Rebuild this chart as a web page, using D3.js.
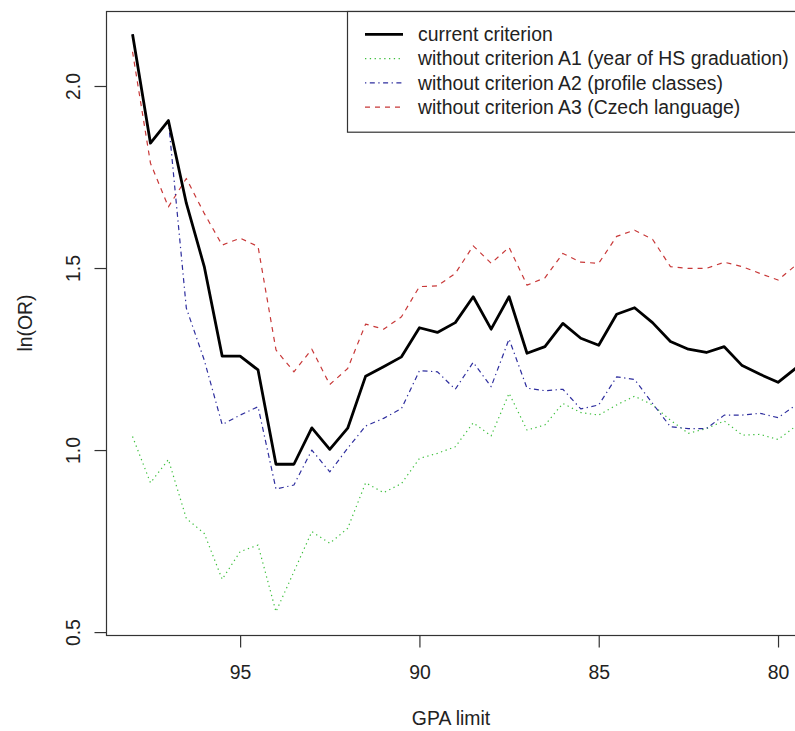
<!DOCTYPE html>
<html>
<head>
<meta charset="utf-8">
<script src="https://cdn.jsdelivr.net/npm/d3@7/dist/d3.min.js"></script>
<style>
  html, body { margin: 0; padding: 0; background: #fff; }
  svg { display: block; font-family: "Liberation Sans", Arial, sans-serif; }
</style>
</head>
<body>
<svg id="chart" width="795" height="731"></svg>
<script>
// GPA limit (x, reversed axis)
const gpa = [98, 97.5, 97, 96.5, 96, 95.5, 95, 94.5, 94, 93.5, 93, 92.5, 92, 91.5, 91, 90.5,
             90, 89.5, 89, 88.5, 88, 87.5, 87, 86.5, 86, 85.5, 85, 84.5, 84, 83.5, 83, 82.5,
             82, 81.5, 81, 80.5, 80, 79.5];

const currentCriterion = [2.142, 1.843, 1.905, 1.678, 1.504, 1.258, 1.258, 1.220, 0.961, 0.961,
  1.061, 1.002, 1.060, 1.203, 1.229, 1.256, 1.336, 1.323, 1.350, 1.421, 1.332, 1.421, 1.266,
  1.284, 1.348, 1.307, 1.288, 1.373, 1.391, 1.350, 1.298, 1.277, 1.268, 1.284, 1.232, 1.208,
  1.186, 1.225];

const withoutA1 = [1.037, 0.910, 0.974, 0.812, 0.771, 0.645, 0.721, 0.739, 0.556, 0.666,
  0.776, 0.744, 0.785, 0.910, 0.883, 0.908, 0.977, 0.991, 1.009, 1.075, 1.039, 1.156, 1.055,
  1.069, 1.128, 1.103, 1.096, 1.124, 1.148, 1.124, 1.082, 1.046, 1.059, 1.080, 1.041, 1.043,
  1.029, 1.066];

const withoutA2 = [2.142, 1.843, 1.905, 1.390, 1.247, 1.070, 1.096, 1.119, 0.893, 0.904,
  1.000, 0.940, 1.005, 1.066, 1.087, 1.114, 1.218, 1.215, 1.167, 1.241, 1.174, 1.305, 1.170,
  1.163, 1.167, 1.113, 1.124, 1.201, 1.194, 1.128, 1.064, 1.059, 1.059, 1.096, 1.096, 1.101,
  1.089, 1.124];

const withoutA3 = [2.094, 1.788, 1.668, 1.746, 1.650, 1.563, 1.582, 1.559, 1.275, 1.215,
  1.277, 1.180, 1.224, 1.346, 1.332, 1.366, 1.449, 1.451, 1.485, 1.561, 1.513, 1.557, 1.453,
  1.473, 1.540, 1.516, 1.513, 1.587, 1.604, 1.579, 1.504, 1.499, 1.499, 1.516, 1.504, 1.485,
  1.467, 1.508];

const xTicks = [95, 90, 85, 80];
const yTicks = [0.5, 1.0, 1.5, 2.0];
const yTickLabels = ["0.5", "1.0", "1.5", "2.0"];

const seriesNames = [
  "current criterion",
  "without criterion A1 (year of HS graduation)",
  "without criterion A2 (profile classes)",
  "without criterion A3 (Czech language)"
];

const series = [
  { name: seriesNames[0], values: currentCriterion, color: "#000000", width: 2.8, dash: null },
  { name: seriesNames[1], values: withoutA1, color: "#3cbf3c", width: 1.2, dash: "1.3,3.5" },
  { name: seriesNames[2], values: withoutA2, color: "#2e2e9e", width: 1.2, dash: "1.3,3.5,5,3.5" },
  { name: seriesNames[3], values: withoutA3, color: "#c83838", width: 1.2, dash: "5,5" }
];

const svg = d3.select("#chart");
const pLeft = 106, pRight = 822.5, pTop = 11, pBottom = 635;

const x = d3.scaleLinear().domain([98.74, 78.76]).range([pLeft, pRight]);
const y = d3.scaleLinear().domain([0.492, 2.206]).range([pBottom, pTop]);

const fontSize = 19.4;

// lines
const line = d3.line().x((d, i) => x(gpa[i])).y(d => y(d));
[series[3], series[1], series[2], series[0]].forEach(s => {
  svg.append("path")
    .datum(s.values)
    .attr("d", line)
    .attr("fill", "none")
    .attr("stroke", s.color)
    .attr("stroke-width", s.width)
    .attr("stroke-linejoin", "round")
    .attr("stroke-dasharray", s.dash);
});

// box
svg.append("rect")
  .attr("x", pLeft + 0.5).attr("y", pTop + 0.5)
  .attr("width", pRight - pLeft).attr("height", pBottom - pTop)
  .attr("fill", "none").attr("stroke", "#333").attr("stroke-width", 1.2);

// x axis
const xAxis = svg.append("g")
  .attr("transform", `translate(0,${pBottom + 0.5})`)
  .call(d3.axisBottom(x).tickValues(xTicks).tickSize(12).tickSizeOuter(0).tickFormat(d3.format("d")));
xAxis.select(".domain").remove();
xAxis.selectAll(".tick line").attr("stroke", "#333").attr("stroke-width", 1.2);
xAxis.selectAll(".tick text")
  .attr("y", 43.5).attr("dy", 0)
  .attr("fill", "#222")
  .style("font-size", fontSize + "px")
  .style("font-family", "'Liberation Sans', Arial, sans-serif");

// y axis
const yAxis = svg.append("g")
  .attr("transform", `translate(${pLeft + 0.5},0)`)
  .call(d3.axisLeft(y).tickValues(yTicks).tickSize(12).tickSizeOuter(0)
    .tickFormat((d, i) => yTickLabels[i]));
yAxis.select(".domain").remove();
yAxis.selectAll(".tick line").attr("stroke", "#333").attr("stroke-width", 1.2);
yAxis.selectAll(".tick text")
  .attr("x", 0).attr("y", -27).attr("dy", 0)
  .attr("transform", "rotate(-90)")
  .attr("text-anchor", "middle")
  .attr("fill", "#222")
  .style("font-size", fontSize + "px")
  .style("font-family", "'Liberation Sans', Arial, sans-serif");

// axis titles
svg.append("text")
  .attr("x", 451).attr("y", 725)
  .attr("text-anchor", "middle")
  .attr("fill", "#222")
  .style("font-size", fontSize + "px")
  .text("GPA limit");

svg.append("text")
  .attr("transform", `translate(32,${(pTop + pBottom) / 2}) rotate(-90)`)
  .attr("text-anchor", "middle")
  .attr("fill", "#222")
  .style("font-size", fontSize + "px")
  .text("ln(OR)");

// legend
const legend = svg.append("g");
legend.append("rect")
  .attr("x", 347.5).attr("y", pTop + 0.5)
  .attr("width", 520).attr("height", 120.7)
  .attr("fill", "#fff").attr("stroke", "#333").attr("stroke-width", 1.2);

series.forEach((s, i) => {
  const ly = 34.3 + i * 24.3;
  legend.append("line")
    .attr("x1", 365).attr("x2", 403)
    .attr("y1", ly).attr("y2", ly)
    .attr("stroke", s.color)
    .attr("stroke-width", s.width)
    .attr("stroke-dasharray", s.dash);
  legend.append("text")
    .attr("x", 418).attr("y", ly).attr("dy", "0.35em")
    .attr("fill", "#222")
    .style("font-size", fontSize + "px")
    .text(s.name);
});
</script>
</body>
</html>
